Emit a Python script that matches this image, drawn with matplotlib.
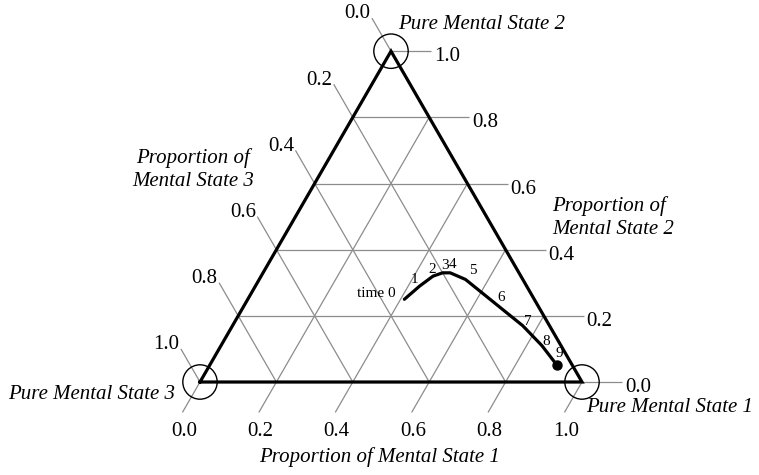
import numpy as np
import matplotlib
matplotlib.use("Agg")
import matplotlib.pyplot as plt
from matplotlib.patches import Circle

# trajectory through the simplex, one composition per time step
times = [0, 1, 2, 3, 4, 5, 6, 7, 8, 9]
state1 = [0.41, 0.43, 0.45, 0.47, 0.49, 0.54, 0.65, 0.76, 0.84, 0.91]
state2 = [0.25, 0.29, 0.32, 0.33, 0.33, 0.31, 0.24, 0.17, 0.11, 0.05]
state3 = [0.34, 0.28, 0.23, 0.20, 0.18, 0.15, 0.11, 0.07, 0.05, 0.04]

tick_values = [0.0, 0.2, 0.4, 0.6, 0.8, 1.0]
tick_labels = ["0.0", "0.2", "0.4", "0.6", "0.8", "1.0"]

# offsets (points) of the time labels from their marks
time_label_offsets = [(-6, 4), (-3.5, 5), (-0.5, 5), (1.5, 5), (1.5, 6),
                      (5, 6.5), (5, 3.5), (3.5, 3), (3, 3), (1.5, 8.5)]

H = np.sqrt(3) / 2
GRID = "#8c8c8c"
FONT = "Liberation Serif"


def tern(p1, p2):
    """
    Cartesian position of a composition.

    Parameters:
    -----------
    p1: proportion of state 1 (bottom right corner).
    p2: proportion of state 2 (top corner); state 3 is the bottom left corner.
    """
    p1 = np.asarray(p1, dtype=float)
    p2 = np.asarray(p2, dtype=float)
    return p1 + p2 / 2, p2 * H


def draw_grid(ax, tick_len=0.1):
    d_s1 = np.array([-0.5, -H])   # down-left, along the left edge
    d_s3 = np.array([-0.5, H])    # up-left, along the right edge
    kw = dict(color=GRID, lw=0.9, zorder=1, solid_capstyle="butt")
    txt = dict(fontsize=15, family=FONT, textcoords="offset points")

    for c, lab in zip(tick_values, tick_labels):
        # proportion of state 2: horizontal lines, ticks to the right
        left = np.array(tern(0, c))
        right = np.array(tern(1 - c, c))
        end = right + np.array([tick_len * 1.05, 0])
        ax.plot([left[0], end[0]], [left[1], end[1]], **kw)
        ax.annotate(lab, end, xytext=(2, -4), ha="left", va="center", **txt)

        # proportion of state 1: lines parallel to the left edge
        bottom = np.array(tern(c, 0))
        top = np.array(tern(c, 1 - c))
        end = bottom + d_s1 * tick_len * 0.92
        ax.plot([end[0], top[0]], [end[1], top[1]], **kw)
        ax.annotate(lab, end, xytext=(1, -7), ha="center", va="top", **txt)

        # proportion of state 3: lines parallel to the right edge
        bottom = np.array(tern(1 - c, 0))
        edge = np.array(tern(0, 1 - c))
        end = edge + d_s3 * tick_len
        ax.plot([bottom[0], end[0]], [bottom[1], end[1]], **kw)
        ax.annotate(lab, end, xytext=(-1, 3), ha="right", va="center", **txt)


def draw_frame(ax):
    corners_x, corners_y = tern([0, 1, 0, 0], [0, 0, 1, 0])
    ax.plot(corners_x, corners_y, color="black", lw=2.3, zorder=3,
            solid_joinstyle="miter")
    for x, y in zip(corners_x[:3], corners_y[:3]):
        ax.add_patch(Circle((x, y), 0.045, fill=False, ec="black", lw=1.0,
                            zorder=4))


fig = plt.figure(figsize=(7.59, 4.75), dpi=100)
ax = fig.add_axes([0, 0, 1, 1])
ax.set_xlim(-200 / 382, 559 / 382)
ax.set_ylim(-93 / 382, 1.0)
ax.axis("off")

draw_grid(ax)
draw_frame(ax)

# trajectory and its time stamps
xs, ys = tern(state1, state2)
ax.plot(xs, ys, color="black", lw=2.3, zorder=5, solid_joinstyle="round",
        solid_capstyle="round")
ax.plot(xs[-1], ys[-1], "o", color="black", ms=6.5, zorder=6)
for t, x, y, off in zip(times, xs, ys, time_label_offsets):
    lab = "time 0" if t == 0 else str(t)
    ax.annotate(lab, (x, y), xytext=off, textcoords="offset points",
                ha="right" if t == 0 else "center", va="center",
                fontsize=11, family=FONT, zorder=7)

ital = dict(fontsize=15, family=FONT, style="italic")
ax.text(0.518, 0.935, "Pure Mental State 2", ha="left", va="center", **ital)
ax.text(1.010, -0.068, "Pure Mental State 1", ha="left", va="center", **ital)
ax.text(-0.065, -0.034, "Pure Mental State 3", ha="right", va="center", **ital)
ax.text(0.471, -0.196, "Proportion of Mental State 1", ha="center",
        va="center", **ital)
ax.text(-0.018, 0.556, "Proportion of\nMental State 3", ha="center",
        va="center", linespacing=1.25, **ital)
ax.text(0.921, 0.430, "Proportion of\nMental State 2", ha="left",
        va="center", linespacing=1.25, **ital)

fig.savefig("out.png", dpi=100)
